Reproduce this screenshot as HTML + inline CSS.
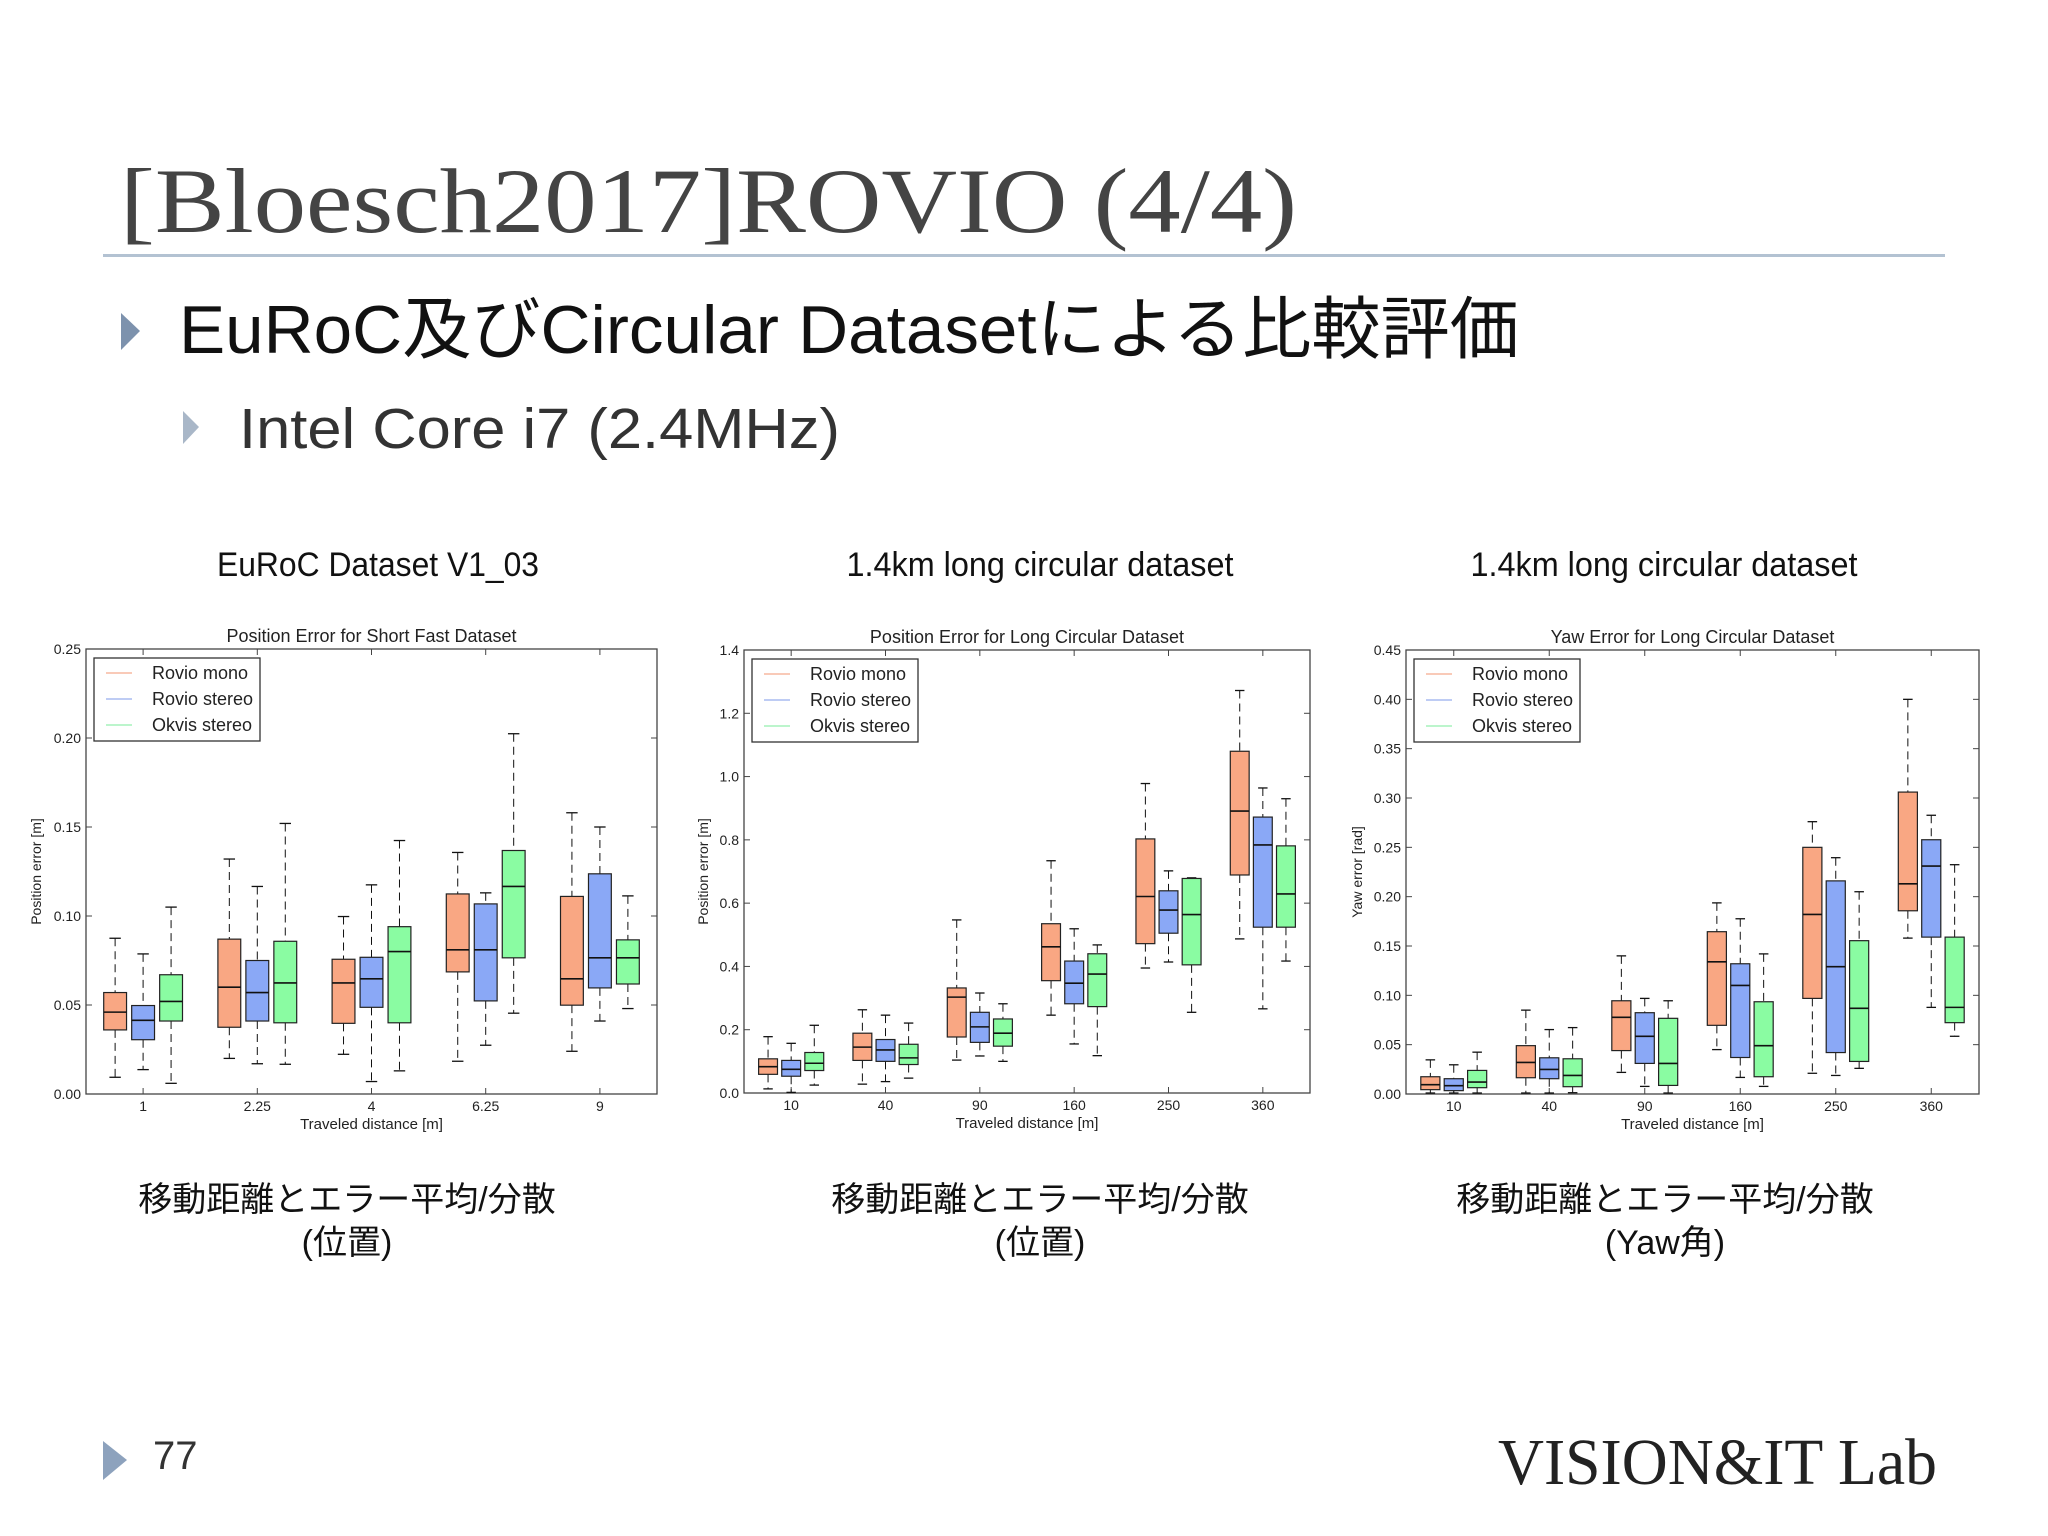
<!DOCTYPE html>
<html><head><meta charset="utf-8"><style>
html,body{margin:0;padding:0;background:#fff;}
svg{display:block;}
</style></head><body>
<svg id="page" width="2048" height="1536" viewBox="0 0 2048 1536" xmlns="http://www.w3.org/2000/svg">
<text x="120" y="232" font-family="Liberation Serif, serif" font-size="92" fill="#444" textLength="1177" lengthAdjust="spacingAndGlyphs">[Bloesch2017]ROVIO (4/4)</text>
<rect x="103" y="254" width="1842" height="3" fill="#b3c2d2"/>
<polygon points="121,313 140,331 121,350" fill="#7d92ad"/>
<text x="179" y="353" font-family="Liberation Sans, 'Noto Sans CJK JP', sans-serif" font-size="68" fill="#111" textLength="1340" lengthAdjust="spacingAndGlyphs">EuRoC及びCircular Datasetによる比較評価</text>
<polygon points="183,411 199,427 183,444" fill="#a9b7c8"/>
<text x="239" y="448" font-family="Liberation Sans, sans-serif" font-size="57" fill="#333" textLength="601" lengthAdjust="spacingAndGlyphs">Intel Core i7 (2.4MHz)</text>
<g font-family="Liberation Sans, 'Noto Sans CJK JP', sans-serif" font-size="34" fill="#111" text-anchor="middle">
<text x="378" y="576" textLength="322" lengthAdjust="spacingAndGlyphs">EuRoC Dataset V1_03</text>
<text x="1040" y="576" textLength="387" lengthAdjust="spacingAndGlyphs">1.4km long circular dataset</text>
<text x="1664" y="576" textLength="387" lengthAdjust="spacingAndGlyphs">1.4km long circular dataset</text>
<text x="347" y="1211">移動距離とエラー平均/分散</text>
<text x="347" y="1254">(位置)</text>
<text x="1040" y="1211">移動距離とエラー平均/分散</text>
<text x="1040" y="1254">(位置)</text>
<text x="1665" y="1211">移動距離とエラー平均/分散</text>
<text x="1665" y="1254">(Yaw角)</text>
</g>
<polygon points="103,1441 127,1460 103,1480" fill="#8da2bd"/>
<text x="153" y="1469" font-family="Liberation Sans, sans-serif" font-size="40" fill="#333">77</text>
<text x="1498" y="1484" font-family="Liberation Serif, serif" font-size="66" fill="#222" textLength="439" lengthAdjust="spacingAndGlyphs">VISION&amp;IT Lab</text>
<g id="charts"></g>
</svg>
<script>
// Chart 1: Position Error for Short Fast Dataset  ([low, q1, median, q3, high])
const c1Categories = ["1","2.25","4","6.25","9"];
const c1Mono   = [[0.0094,0.036,0.046,0.057,0.0875],[0.020,0.0375,0.060,0.087,0.132],[0.0223,0.0397,0.0624,0.0757,0.0997],[0.0184,0.0686,0.081,0.1124,0.1357],[0.024,0.0499,0.0647,0.111,0.158]];
const c1Stereo = [[0.0137,0.0305,0.0414,0.0497,0.0787],[0.017,0.041,0.057,0.075,0.1166],[0.007,0.0487,0.0647,0.0768,0.1175],[0.0274,0.0523,0.081,0.1068,0.113],[0.041,0.0596,0.0765,0.1237,0.150]];
const c1Okvis  = [[0.006,0.041,0.052,0.067,0.105],[0.0167,0.040,0.0624,0.0858,0.152],[0.013,0.040,0.080,0.094,0.1424],[0.0454,0.0765,0.1166,0.1368,0.2024],[0.048,0.0618,0.0765,0.0866,0.1113]];
const c1Ticks  = ["0.00","0.05","0.10","0.15","0.20","0.25"];
// Chart 2: Position Error for Long Circular Dataset
const c2Categories = ["10","40","90","160","250","360"];
const c2Mono   = [[0.013,0.059,0.083,0.108,0.178],[0.028,0.103,0.145,0.189,0.263],[0.104,0.177,0.303,0.332,0.547],[0.246,0.355,0.462,0.535,0.734],[0.395,0.472,0.621,0.803,0.978],[0.487,0.689,0.891,1.08,1.272]];
const c2Stereo = [[0.002,0.053,0.075,0.103,0.157],[0.036,0.10,0.136,0.169,0.246],[0.117,0.16,0.209,0.255,0.316],[0.155,0.282,0.347,0.417,0.519],[0.414,0.505,0.578,0.639,0.702],[0.266,0.524,0.784,0.872,0.964]];
const c2Okvis  = [[0.025,0.071,0.094,0.128,0.214],[0.047,0.09,0.111,0.154,0.221],[0.10,0.148,0.189,0.234,0.282],[0.118,0.273,0.376,0.44,0.468],[0.255,0.405,0.564,0.678,0.68],[0.417,0.524,0.629,0.781,0.93]];
const c2Ticks  = ["0.0","0.2","0.4","0.6","0.8","1.0","1.2","1.4"];
// Chart 3: Yaw Error for Long Circular Dataset
const c3Categories = ["10","40","90","160","250","360"];
const c3Mono   = [[0.001,0.0044,0.0094,0.0175,0.0346],[0.001,0.0165,0.032,0.049,0.085],[0.0219,0.044,0.0777,0.0945,0.14],[0.045,0.0696,0.134,0.1645,0.1937],[0.021,0.0969,0.182,0.250,0.276],[0.158,0.1857,0.213,0.306,0.40]];
const c3Stereo = [[0.001,0.0034,0.0084,0.0155,0.0296],[0.001,0.0155,0.0249,0.0367,0.0653],[0.0077,0.031,0.0585,0.0824,0.0969],[0.0168,0.037,0.11,0.132,0.1776],[0.0188,0.042,0.129,0.216,0.2395],[0.0878,0.159,0.231,0.2577,0.2825]];
const c3Okvis  = [[0.001,0.0064,0.0121,0.0239,0.0424],[0.0013,0.0074,0.0188,0.0357,0.0673],[0.001,0.0087,0.031,0.0767,0.0945],[0.0077,0.0175,0.049,0.0935,0.142],[0.026,0.033,0.0868,0.1554,0.205],[0.0585,0.0723,0.0878,0.159,0.2324]];
const c3Ticks  = ["0.00","0.05","0.10","0.15","0.20","0.25","0.30","0.35","0.40","0.45"];

const NS = "http://www.w3.org/2000/svg";
const COLORS = ["#f9a783","#8aa8f6","#8afca2"];
const LEGCOL = ["#f7b8a0","#a9bcf0","#a6f2bb"];
const NAMES = ["Rovio mono","Rovio stereo","Okvis stereo"];
function mk(tag, attrs, parent){const e=document.createElementNS(NS,tag);for(const k in attrs)e.setAttribute(k,attrs[k]);parent.appendChild(e);return e;}

function drawChart(cfg){
  const root = document.getElementById('charts');
  const g = mk('g',{},root);
  
  
  const L=cfg.x0,R=cfg.x1,T=cfg.y0,B=cfg.y1;
  const ymax=parseFloat(cfg.ticks[cfg.ticks.length-1]);
  const yS=v=>B-(v/ymax)*(B-T);
  const n=cfg.cats.length, step=(R-L)/n;
  const xC=i=>L+(i+0.5)*step;
  const fr=mk('rect',{x:L,y:T,width:R-L,height:B-T,fill:'#fff',stroke:'#444','stroke-width':1.3},g);
  
  
  cfg.ticks.forEach(t=>{
    const y=yS(parseFloat(t));
    mk('line',{x1:L,x2:L+6,y1:y,y2:y,stroke:'#444'},g);
    mk('line',{x1:R,x2:R-6,y1:y,y2:y,stroke:'#444'},g);
    const tx=mk('text',{x:L-5,y:y+5,'text-anchor':'end','font-family':'Liberation Sans, sans-serif','font-size':14,fill:'#222'},g);
    tx.textContent=t;
    
    
  });
  cfg.cats.forEach((c,i)=>{
    const x=xC(i);
    mk('line',{x1:x,x2:x,y1:B,y2:B-6,stroke:'#444'},g);
    mk('line',{x1:x,x2:x,y1:T,y2:T+6,stroke:'#444'},g);
    const tx=mk('text',{x:x,y:B+17,'text-anchor':'middle','font-family':'Liberation Sans, sans-serif','font-size':14,fill:'#222'},g);
    tx.textContent=c;
    
    
  });
  const bw=step*0.2;
  [cfg.mono,cfg.stereo,cfg.okvis].forEach((series,s)=>{
    series.forEach((d,i)=>{
      const cx=xC(i)+(s-1)*step*0.245;
      const [lo,q1,md,q3,hi]=d;
      const bg=mk('g',{},g);
      
      
      mk('line',{x1:cx,x2:cx,y1:yS(hi),y2:yS(q3),stroke:'#111','stroke-dasharray':'8,5'},bg);
      mk('line',{x1:cx,x2:cx,y1:yS(q1),y2:yS(lo),stroke:'#111','stroke-dasharray':'8,5'},bg);
      mk('line',{x1:cx-bw*0.25,x2:cx+bw*0.25,y1:yS(hi),y2:yS(hi),stroke:'#111','stroke-width':1.3},bg);
      mk('line',{x1:cx-bw*0.25,x2:cx+bw*0.25,y1:yS(lo),y2:yS(lo),stroke:'#111','stroke-width':1.3},bg);
      mk('rect',{x:cx-bw/2,y:yS(q3),width:bw,height:yS(q1)-yS(q3),fill:COLORS[s],stroke:'#222','stroke-width':1.2},bg);
      mk('line',{x1:cx-bw/2,x2:cx+bw/2,y1:yS(md),y2:yS(md),stroke:'#111','stroke-width':1.6},bg);
    });
  });
  const ti=mk('text',{x:(L+R)/2,y:T-7,'text-anchor':'middle','font-family':'Liberation Sans, sans-serif','font-size':18,fill:'#222'},g);
  ti.textContent=cfg.title;
  
  
  const xl=mk('text',{x:(L+R)/2,y:B+35,'text-anchor':'middle','font-family':'Liberation Sans, sans-serif','font-size':15,fill:'#222'},g);
  xl.textContent='Traveled distance [m]';
  
  
  const yl=mk('text',{x:0,y:0,'text-anchor':'middle','font-family':'Liberation Sans, sans-serif','font-size':14,fill:'#222',transform:`translate(${cfg.ylx},${(T+B)/2}) rotate(-90)`},g);
  yl.textContent=cfg.ylabel;
  
  
  const lg=mk('g',{},g);
  
  
  const lx=L+8, ly=T+9;
  mk('rect',{x:lx,y:ly,width:166,height:83,fill:'#fff',stroke:'#333','stroke-width':1.3},lg);
  NAMES.forEach((nm,k)=>{
    const yy=ly+15+k*26;
    mk('line',{x1:lx+12,x2:lx+38,y1:yy,y2:yy,stroke:LEGCOL[k],'stroke-width':1.5},lg);
    const t=mk('text',{x:lx+58,y:yy+6,'font-family':'Liberation Sans, sans-serif','font-size':18,fill:'#222'},lg);
    t.textContent=nm;
    
    
  });
}
drawChart({name:'chart-short-fast-position',x0:86,x1:657,y0:649,y1:1094,cats:c1Categories,mono:c1Mono,stereo:c1Stereo,okvis:c1Okvis,ticks:c1Ticks,title:'Position Error for Short Fast Dataset',ylabel:'Position error [m]',ylx:41});
drawChart({name:'chart-long-circular-position',x0:744,x1:1310,y0:650,y1:1093,cats:c2Categories,mono:c2Mono,stereo:c2Stereo,okvis:c2Okvis,ticks:c2Ticks,title:'Position Error for Long Circular Dataset',ylabel:'Position error [m]',ylx:708});
drawChart({name:'chart-long-circular-yaw',x0:1406,x1:1979,y0:650,y1:1094,cats:c3Categories,mono:c3Mono,stereo:c3Stereo,okvis:c3Okvis,ticks:c3Ticks,title:'Yaw Error for Long Circular Dataset',ylabel:'Yaw error [rad]',ylx:1362});
</script>
</body></html>
